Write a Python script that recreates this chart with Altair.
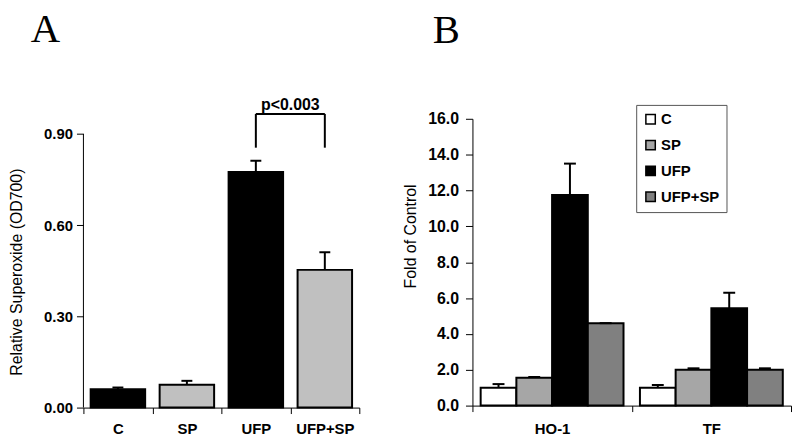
import altair as alt
import pandas as pd

# Panel A data
a_cats = ["C", "SP", "UFP", "UFP+SP"]
a_means = [0.060, 0.075, 0.775, 0.453]
a_errs = [0.006, 0.013, 0.037, 0.058]
a_colors = ["#000000", "#c0c0c0", "#000000", "#c0c0c0"]
a_ticks = [0.0, 0.3, 0.6, 0.9]
a_sig_text = ["p<0.003"]
a_sig_pair = ["UFP", "UFP+SP"]
a_sig_low = 0.855
a_sig_high = 0.966

# Panel B data
b_genes = ["HO-1", "TF"]
b_trts = ["C", "SP", "UFP", "UFP+SP"]
b_means = {"HO-1": [1.0, 1.55, 11.75, 4.6], "TF": [1.0, 2.0, 5.43, 2.0]}
b_errs = {"HO-1": [0.2, 0.05, 1.75, 0.0], "TF": [0.15, 0.08, 0.87, 0.08]}
b_colors = ["#ffffff", "#a6a6a6", "#000000", "#808080"]
b_ticks = [0.0, 2.0, 4.0, 6.0, 8.0, 10.0, 12.0, 14.0, 16.0]

FONT = "Liberation Sans"
SERIF = "Liberation Serif"

dfa = pd.DataFrame({"cat": a_cats, "mean": a_means, "err": a_errs})
dfa["upper"] = dfa["mean"] + dfa["err"]

rows = []
for g in b_genes:
    for t, m, e in zip(b_trts, b_means[g], b_errs[g]):
        rows.append({"gene": g, "trt": t, "mean": m, "err": e, "upper": m + e})
dfb = pd.DataFrame(rows)

# ---------- Panel A ----------
ax_a = alt.X("cat:N", sort=a_cats, title=None,
             scale=alt.Scale(paddingInner=0, paddingOuter=0),
             axis=alt.Axis(tickBand="extent", labelAngle=0, labelFont=FONT,
                           labelFontSize=15, labelFontWeight="bold",
                           labelColor="black", domainColor="black",
                           tickColor="black", tickSize=6, labelPadding=8))
ay_a = alt.Y("mean:Q", title="Relative Superoxide (OD700)",
             scale=alt.Scale(domain=[0, 0.95], nice=False),
             axis=alt.Axis(values=a_ticks, format=".2f", domain=False, grid=False,
                           tickColor="black", tickSize=7, labelFont=FONT,
                           labelFontSize=15, labelFontWeight="bold",
                           labelColor="black", labelPadding=4,
                           labelOverlap=False,
                           titleFont=FONT, titleFontSize=16,
                           titleFontWeight="normal", titleColor="black",
                           titlePadding=19, titleY=154))

base_a = alt.Chart(dfa)
bars_a = base_a.mark_bar(width=alt.RelativeBandSize(0.79), stroke="black",
                         strokeWidth=2).encode(
    x=ax_a, y=ay_a,
    color=alt.Color("cat:N", scale=alt.Scale(domain=a_cats, range=a_colors),
                    legend=None))
err_a = base_a.mark_rule(color="black", strokeWidth=2).encode(
    x=alt.X("cat:N", sort=a_cats), y="mean:Q", y2="upper:Q")
cap_a = base_a.mark_tick(color="black", thickness=2, size=11, opacity=1).encode(
    x=alt.X("cat:N", sort=a_cats), y="upper:Q")

yline_a = alt.Chart(pd.DataFrame({"v": [0]})).mark_rule(color="black").encode(
    x=alt.value(0), y=alt.YDatum(a_ticks[0]), y2=alt.Y2Datum(a_ticks[-1]))

sig_h = alt.Chart(pd.DataFrame({"v": [0]})).mark_rule(color="black", strokeWidth=2).encode(
    x=alt.XDatum(a_sig_pair[0]), x2=alt.X2Datum(a_sig_pair[1]), y=alt.YDatum(a_sig_high))
sig_v = alt.Chart(pd.DataFrame({"cat": a_sig_pair, "lo": [a_sig_low] * 2,
                                "hi": [a_sig_high] * 2})).mark_rule(
    color="black", strokeWidth=2).encode(
    x=alt.X("cat:N", sort=a_cats), y="lo:Q", y2="hi:Q")
sig_t = alt.Chart(pd.DataFrame({"t": a_sig_text})).mark_text(
    font=FONT, fontSize=16, fontWeight="bold", baseline="alphabetic",
    align="center", color="black").encode(
    x=alt.XDatum(a_sig_pair[1], bandPosition=0), y=alt.YDatum(0.98), text="t:N")

letter_a = alt.Chart(pd.DataFrame({"l": ["A"]})).mark_text(
    font=SERIF, fontSize=41, align="left", baseline="alphabetic",
    color="black").encode(x=alt.value(-53), y=alt.value(-77), text="l:N")

panel_a = alt.layer(bars_a, err_a, cap_a, yline_a, sig_h, sig_v, sig_t,
                    letter_a).properties(width=278, height=291)

# ---------- Panel B ----------
ax_b = alt.X("gene:N", sort=b_genes, title=None,
             scale=alt.Scale(paddingInner=0, paddingOuter=0),
             axis=alt.Axis(tickBand="extent", labelAngle=0, labelFont=FONT,
                           labelFontSize=15, labelFontWeight="bold",
                           labelColor="black", domainColor="black",
                           tickColor="black", tickSize=6, labelPadding=10))
xo_b = alt.XOffset("trt:N", sort=b_trts,
                   scale=alt.Scale(paddingInner=0, paddingOuter=0.23))
axis_b = alt.Axis(values=b_ticks, tickCount=9, format=".1f", grid=False,
                  domainColor="black", tickColor="black", tickSize=7,
                  labelFont=FONT, labelFontSize=16,
                  labelFontWeight="bold", labelColor="black",
                  labelPadding=7, labelOverlap=False,
                  titleFont=FONT, titleFontSize=16,
                  titleFontWeight="normal", titleColor="black",
                  titlePadding=9, titleY=118)
scale_b = alt.Scale(domain=[0, 16], nice=False)


def yb(field):
    return alt.Y(field + ":Q", title="Fold of Control", scale=scale_b, axis=axis_b)


base_b = alt.Chart(dfb)
bars_b = base_b.mark_bar(stroke="black", strokeWidth=2).encode(
    x=ax_b, xOffset=xo_b, y=yb("mean"),
    color=alt.Color("trt:N", sort=b_trts,
                    scale=alt.Scale(domain=b_trts, range=b_colors),
                    legend=alt.Legend(orient="none", legendX=165, legendY=-14,
                                      title=None, symbolType="square",
                                      symbolSize=90, symbolStrokeColor="black",
                                      symbolStrokeWidth=1.5, labelFont=FONT,
                                      labelFontSize=15, labelFontWeight="bold",
                                      labelColor="black", rowPadding=9,
                                      padding=7, strokeColor="#555555",
                                      fillColor="white", labelOffset=3)))
err_b = base_b.mark_rule(color="black", strokeWidth=2).encode(
    x=alt.X("gene:N", sort=b_genes), xOffset=xo_b, y=yb("mean"), y2="upper:Q")
cap_b = base_b.mark_tick(color="black", thickness=2, size=12, opacity=1).encode(
    x=alt.X("gene:N", sort=b_genes), xOffset=xo_b, y=yb("upper"))

letter_b = alt.Chart(pd.DataFrame({"l": ["B"]})).mark_text(
    font=SERIF, fontSize=41, align="left", baseline="alphabetic",
    color="black").encode(x=alt.value(-40), y=alt.value(-76), text="l:N")

panel_b = alt.layer(bars_b, err_b, cap_b, letter_b).properties(width=321, height=289)

chart = alt.hconcat(panel_a, panel_b, spacing=42).properties(
    padding=0
).configure_view(stroke=None).configure_axis(grid=False).resolve_scale(
    color="independent")

chart.save("out.html", embed_options={"renderer": "svg", "actions": False})
